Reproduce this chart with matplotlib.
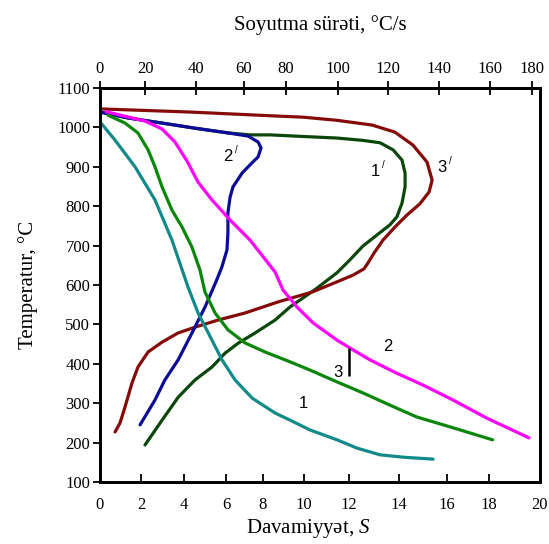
import numpy as np
import matplotlib
matplotlib.use('Agg')
import matplotlib.pyplot as plt

plt.rcParams['font.family'] = ['Liberation Serif', 'DejaVu Serif']
plt.rcParams['mathtext.fontset'] = 'custom'
plt.rcParams['mathtext.rm'] = 'Liberation Serif'
plt.rcParams['mathtext.it'] = 'Liberation Serif:italic'

# bottom axis: duration (s) for curves 1, 2, 3
time_1 = [0, 0.73, 1.71, 2.65, 3.44, 4.19, 4.67, 5.33, 5.81, 6.49, 7.41, 8.59,
          9.32, 10.27, 11.47, 12.32, 13.24, 14.17, 15.42]
temp_1 = [1014, 968, 900, 816, 714, 595, 529, 460, 410, 359, 313, 275,
          257, 232, 207, 186, 169, 163, 158]

time_2 = [0.3, 2.19, 2.98, 3.58, 4.14, 4.67, 5.33, 6.22, 7.30, 8.59, 8.98,
          9.66, 10.4, 11.47, 12.04, 12.84, 13.88, 15.0, 16.29, 17.9, 19.57]
temp_2 = [1040, 1016, 996, 963, 915, 861, 816, 765, 714, 633, 587,
          544, 504, 460, 440, 410, 377, 346, 308, 262, 212]

time_3 = [0.39, 1.22, 1.85, 2.33, 2.65, 2.98, 3.44, 3.91, 4.38, 4.76, 5.0,
          5.48, 6.11, 7.03, 8.1, 9.32, 10.27, 11.47, 12.56, 13.64, 14.74,
          16.14, 18.14]
temp_3 = [1031, 1011, 986, 943, 900, 849, 790, 747, 696, 638, 582,
          529, 486, 453, 430, 405, 384, 354, 326, 295, 265,
          240, 207]

# top axis: cooling rate (C/s) for curves 1', 2', 3'
rate_1p = [0, 12.4, 26.7, 39.6, 53.3, 62.9, 72.4, 86.5, 99.6, 110, 116.8,
           122, 125.5, 126.7, 126.7, 125.5, 123.5, 120.8, 115.6, 110, 104.8,
           99.6, 91.5, 81.5, 74.8, 65.2, 57.5, 52.1, 46.7, 39.6, 33, 26.7, 20]
temp_1p = [1039, 1024, 1011, 998, 986, 981, 981, 977, 973, 967, 961,
           943, 917, 884, 849, 808, 773, 753, 727, 699, 664,
           631, 590, 544, 511, 478, 452, 427, 392, 359, 315, 257, 194]

rate_2p = [0, 12.4, 26.7, 39.6, 53.3, 61.9, 66.7, 68.1, 66.7, 63.8, 59.2,
           55.4, 54.2, 53.3, 53.3, 52.9, 50.8, 48.3, 43.75, 38.4, 33.0,
           27.8, 23.9, 17.8]
temp_2p = [1039, 1024, 1011, 998, 986, 978, 963, 948, 925, 910, 884,
           849, 823, 783, 732, 689, 646, 608, 544, 478, 410,
           359, 308, 245]

rate_3p = [0, 37.6, 74.8, 86.5, 99.6, 113.6, 122.7, 129.8, 135.3, 137.3,
           136.1, 132.5, 127.5, 122.7, 118, 114.4, 112, 110.4, 106, 99.6,
           90, 76.2, 60.5, 49.2, 39.6, 32.9, 26.7, 21.2, 16.9, 14.2, 11.1,
           8.9, 6.7]
temp_3p = [1047, 1039, 1029, 1026, 1018, 1006, 988, 955, 912, 866,
           836, 806, 778, 747, 714, 681, 656, 641, 625, 608,
           582, 557, 529, 511, 493, 478, 455, 430, 392, 351, 290,
           250, 227]

bottom_ticks = [0, 2, 4, 6, 8, 10, 12, 14, 16, 18, 20]
top_ticks = [0, 20, 40, 60, 80, 100, 120, 140, 160, 180]
temp_ticks = list(range(100, 1101, 100))

# the original axes are hand drawn, ticks are not evenly spaced
bottom_tick_pos = [100, 141, 184, 226, 263, 304, 349, 399, 447, 489, 540]
top_tick_pos = [100, 145, 196, 244, 286, 338, 388, 439, 490, 532]


def piecewise(xk, yk):
    xk = np.asarray(xk, float)
    yk = np.asarray(yk, float)

    def f(v):
        v = np.asarray(v, float)
        out = np.interp(v, xk, yk)
        lo_slope = (yk[1] - yk[0]) / (xk[1] - xk[0])
        hi_slope = (yk[-1] - yk[-2]) / (xk[-1] - xk[-2])
        out = np.where(v < xk[0], yk[0] + (v - xk[0]) * lo_slope, out)
        out = np.where(v > xk[-1], yk[-1] + (v - xk[-1]) * hi_slope, out)
        return out
    return f


fig = plt.figure(figsize=(5.49, 5.44), dpi=100)
ax = fig.add_axes([100 / 549, 1 - 482 / 544, 440 / 549, 394 / 544])
ax.set_xscale('function', functions=(piecewise(bottom_ticks, bottom_tick_pos),
                                     piecewise(bottom_tick_pos, bottom_ticks)))
ax2 = ax.twiny()
ax2.set_xscale('function', functions=(piecewise(top_ticks, top_tick_pos),
                                      piecewise(top_tick_pos, top_ticks)))

style = dict(lw=2.3, solid_capstyle='round', solid_joinstyle='round')
ax2.plot(rate_1p, temp_1p, color='#0b460b', **style)
ax2.plot(rate_3p, temp_3p, color='#850a0a', **style)
ax2.plot(rate_2p, temp_2p, color='#0c0c96', **style)
ax.plot(time_1, temp_1, color='#128a8a', **style)
ax.plot(time_3, temp_3, color='#0a870a', **style)
ax.plot(time_2, temp_2, color='#ff00ff', **style)
ax.set_zorder(ax2.get_zorder() + 1)
ax.patch.set_visible(False)

# vertical marker at 12 s
ax.vlines(12, 368, 440, color='black', lw=1.8)

lab = dict(family=['Liberation Sans', 'DejaVu Sans'], fontsize=12,
           ha='center', va='center')
ax.text(13.56, 443, '2', **lab)
ax.text(11.51, 377, '3', **lab)
ax.text(9.95, 298, '1', **lab)
for x, y, t in [(53.3, 925, '2'), (114.8, 887, '1'), (141.2, 897, '3')]:
    ax2.text(x, y, t, **lab)
    ax2.annotate('/', xy=(x, y), xytext=(6, 5), textcoords='offset points',
                 fontsize=7, ha='center', va='center',
                 family=['Liberation Sans', 'DejaVu Sans'])

ax.set_xlim(0, 20)
ax2.set_xlim(0, piecewise(top_tick_pos, top_ticks)(540))
ax.set_ylim(100, 1100)
ax.set_xticks(bottom_ticks)
ax2.set_xticks(top_ticks)
ax.set_yticks(temp_ticks)
ax.xaxis.set_minor_locator(matplotlib.ticker.NullLocator())
ax2.xaxis.set_minor_locator(matplotlib.ticker.NullLocator())

for a in (ax, ax2):
    for s in a.spines.values():
        s.set_linewidth(2)
ax.tick_params(axis='x', direction='in', length=6, width=1.3, pad=11,
               labelsize=12)
ax.tick_params(axis='y', direction='out', length=5, width=1.3, pad=2,
               labelsize=12, right=False)
ax2.tick_params(axis='x', direction='inout', length=10, width=1.3, pad=3,
                labelsize=12)

ax.set_xlabel('Davamiyyət, $S$', fontsize=15)
ax.xaxis.set_label_coords(0.473, -0.09)
ax2.set_xlabel('Soyutma sürəti, °C/s', fontsize=15, labelpad=22)
ax.set_ylabel('Temperatur, °C', fontsize=15, labelpad=14)

fig.savefig('out.png', dpi=100)
